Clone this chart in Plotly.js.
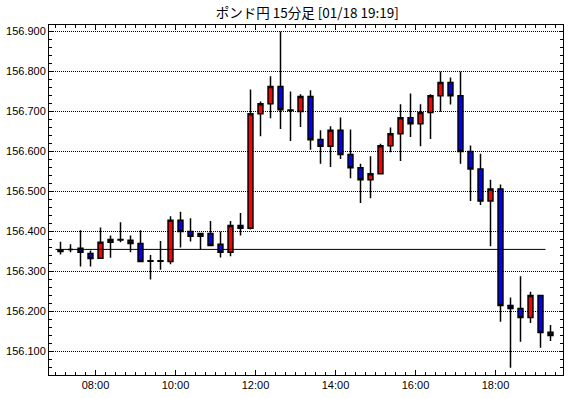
<!DOCTYPE html>
<html>
<head>
<meta charset="utf-8">
<script src="https://cdn.plot.ly/plotly-3.0.1.min.js"></script>
<style>html,body{margin:0;padding:0;background:#fff;}#chart{width:570px;height:398px;}</style>
</head>
<body>
<div id="chart"></div>
<script>
// 15-minute candles (period start times), GBP/JPY, 01/18
const times = ['07:00','07:15','07:30','07:45','08:00','08:15','08:30','08:45','09:00','09:15',
               '09:30','09:45','10:00','10:15','10:30','10:45','11:00','11:15','11:30','11:45',
               '12:00','12:15','12:30','12:45','13:00','13:15','13:30','13:45','14:00','14:15',
               '14:30','14:45','15:00','15:15','15:30','15:45','16:00','16:15','16:30','16:45',
               '17:00','17:15','17:30','17:45','18:00','18:15','18:30','18:45','19:00','19:15'];
const open  = [156.350,156.355,156.358,156.345,156.333,156.373,156.3795,156.378,156.370,156.3265,
               156.3265,156.325,156.428,156.400,156.388,156.395,156.368,156.348,156.415,156.408,
               156.694,156.719,156.762,156.7035,156.700,156.737,156.630,156.613,156.653,156.592,
               156.559,156.529,156.544,156.614,156.644,156.684,156.669,156.697,156.739,156.772,
               156.739,156.600,156.556,156.476,156.506,156.215,156.207,156.185,156.240,156.148];
const high  = [156.374,156.368,156.403,156.352,156.410,156.390,156.423,156.390,156.403,156.341,
               156.376,156.438,156.449,156.433,156.395,156.426,156.400,156.426,156.446,156.755,
               156.725,156.788,156.900,156.750,156.743,156.753,156.653,156.663,156.685,156.655,
               156.569,156.588,156.619,156.660,156.718,156.745,156.718,156.743,156.800,156.785,
               156.800,156.615,156.594,156.529,156.517,156.235,156.288,156.249,156.240,156.166];
const low   = [156.342,156.348,156.312,156.312,156.333,156.334,156.373,156.348,156.323,156.280,
               156.304,156.318,156.360,156.375,156.355,156.365,156.335,156.338,156.390,156.405,
               156.638,156.683,156.656,156.626,156.661,156.604,156.569,156.561,156.581,156.533,
               156.471,156.483,156.544,156.598,156.576,156.636,156.613,156.631,156.699,156.717,
               156.569,156.476,156.466,156.363,156.174,156.059,156.124,156.171,156.109,156.126];
const close = [156.354,156.355,156.348,156.332,156.373,156.380,156.3785,156.370,156.325,156.3255,
               156.3255,156.428,156.400,156.388,156.395,156.365,156.348,156.415,156.408,156.694,
               156.719,156.762,156.704,156.7025,156.737,156.629,156.613,156.653,156.592,156.559,
               156.529,156.544,156.614,156.644,156.684,156.669,156.697,156.739,156.772,156.739,
               156.600,156.556,156.476,156.506,156.215,156.207,156.185,156.240,156.147,156.140];
const prevClose = 156.355;
const lineStart = '07:00', lineEnd = '19:15';
const yTickVals = [156.1,156.2,156.3,156.4,156.5,156.6,156.7,156.8,156.9];
const xTickVals = ['08:00','10:00','12:00','14:00','16:00','18:00'];
const day = '2024-01-18';

function mins(t){const p=t.split(':');return (+p[0])*60+(+p[1]);}
function stamp(m){
  const h=Math.floor(m/60), mm=Math.floor(m%60), s=Math.round((m-Math.floor(m))*60);
  const z=n=>String(n).padStart(2,'0');
  return day+' '+z(h)+':'+z(mm)+':'+z(s);
}
// each candle drawn at the middle of its 15-minute period
const xs = times.map(t => stamp(mins(t)+7.5));

const trace = {
  type:'candlestick', x:xs, open:open, high:high, low:low, close:close,
  increasing:{line:{color:'#000000',width:1.5}, fillcolor:'#ff0000'},
  decreasing:{line:{color:'#000000',width:1.5}, fillcolor:'#0000ff'},
  whiskerwidth:0, hoverinfo:'none', showlegend:false
};

const tickFont = {family:'"Liberation Sans", Arial, sans-serif', size:11, color:'#000'};
const layout = {
  width:570, height:398,
  margin:{l:49, r:7, t:25, b:23},
  paper_bgcolor:'#ffffff', plot_bgcolor:'#ffffff',
  title:{text:'ポンド円 15分足 [01/18 19:19]', x:0.539, xanchor:'center', y:0.967, yanchor:'middle',
         font:{family:'"Noto Sans CJK JP", sans-serif', size:13.5, color:'#000'}},
  showlegend:false,
  xaxis:{
    type:'date', range:[stamp(mins('06:50')+0.25), stamp(mins('19:41')+0.25)],
    rangeslider:{visible:false},
    tickvals:xTickVals.map(t=>stamp(mins(t))), ticktext:xTickVals,
    ticks:'inside', ticklen:5, tickcolor:'#000', tickwidth:1,
    minor:{dtick:900000, ticks:'inside', ticklen:3, tickcolor:'#000', showgrid:false},
    showgrid:false, zeroline:false,
    showline:true, linecolor:'#000', linewidth:1, mirror:'allticks',
    tickfont:tickFont, fixedrange:true
  },
  yaxis:{
    range:[156.041, 156.916],
    tickvals:yTickVals, tickformat:'.3f',
    ticks:'inside', ticklen:4, tickcolor:'#000', tickwidth:1,
    minor:{dtick:0.02, tick0:156.0, ticks:'inside', ticklen:3, tickcolor:'#000', showgrid:false},
    showgrid:true, gridcolor:'#000', gridwidth:1, griddash:'1px,1px',
    zeroline:false, showline:true, linecolor:'#000', linewidth:1, mirror:'allticks',
    tickfont:tickFont, fixedrange:true
  },
  shapes:[{type:'line', xref:'x', yref:'y', x0:stamp(mins(lineStart)), x1:stamp(mins(lineEnd)),
           y0:prevClose, y1:prevClose, line:{color:'#000', width:1}, layer:'above'}]
};

Plotly.newPlot('chart',[trace],layout,{staticPlot:true, displayModeBar:false});
</script>
</body>
</html>
